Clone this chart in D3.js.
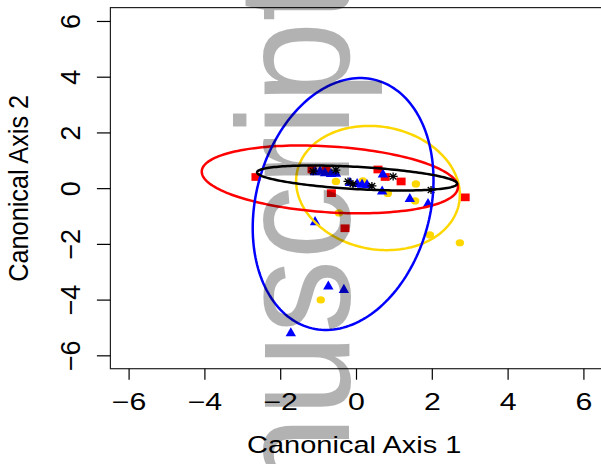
<!DOCTYPE html>
<html>
<head>
<meta charset="utf-8">
<script src="https://cdn.jsdelivr.net/npm/d3@7"></script>
<style>
  body { margin: 0; background: #fff; }
  text { font-family: "Liberation Sans", Arial, sans-serif; }
</style>
</head>
<body>
<div id="chart"></div>
<script>
// tick labels
const xTicks = [-6, -4, -2, 0, 2, 4, 6];
const yTicks = [-6, -4, -2, 0, 2, 4, 6];

// group scores (canonical axis 1, canonical axis 2)
const redX = [-2.64, -1.16, -0.79, -0.65, -0.29, 0.58, 0.77, 1.19, 2.88];
const redY = [0.40, 0.67, 0.65, -0.18, -1.44, 0.67, 0.40, 0.24, -0.33];

const yellowX = [-0.53, 0.18, -0.45, -0.93, 1.58, 0.84, 1.56, 1.95, 2.74];
const yellowY = [0.24, 0.26, -0.89, -4.01, 0.15, -0.19, -0.46, -1.68, -1.96];

const blueX = [-1.08, -0.95, -0.82, -0.66, -0.53, -0.16, 0.03, 0.16, 0.29, 0.69, 0.71, 1.42, 1.90, -1.08, -0.73, -0.32, -1.72];
const blueY = [0.59, 0.62, 0.56, 0.53, 0.54, 0.21, 0.17, 0.14, 0.13, -0.10, 0.51, -0.37, -0.55, -1.20, -3.51, -3.63, -5.19];

const blackX = [-1.13, -0.53, -0.21, -0.08, 0.42, 0.98, 1.98];
const blackY = [0.61, 0.65, 0.24, 0.15, 0.08, 0.42, -0.07];

// ellipses: centre, half ranges and correlation
const ellGroup = ["yellow", "red", "blue", "black"];
const ellCx = [0.58, -0.69, -0.34, 0.03];
const ellCy = [0.005, 0.314, -0.569, 0.364];
const ellRx = [2.16, 3.38, 2.385, 2.64];
const ellRy = [2.23, 1.217, 4.52, 0.449];
const ellR = [-0.11, -0.228, 0.19, -0.45];

const col = {red: "#ff0000", yellow: "#ffd700", blue: "#0000ff", black: "#000000"};

const svg = d3.select("#chart").append("svg")
    .attr("width", 601)
    .attr("height", 464);

const x = d3.scaleLinear().domain([-6.48, 6.48]).range([110.4, 601.6]);
const y = d3.scaleLinear().domain([-6.48, 6.48]).range([368.7, 7.6]);

// points
const zip = (a, b) => a.map((v, i) => [v, b[i]]);

svg.append("g").selectAll("rect")
    .data(zip(redX, redY)).enter().append("rect")
    .attr("x", d => x(d[0]) - 4.5)
    .attr("y", d => y(d[1]) - 3.85)
    .attr("width", 9).attr("height", 7.7)
    .attr("fill", col.red);

svg.append("g").selectAll("ellipse")
    .data(zip(yellowX, yellowY)).enter().append("ellipse")
    .attr("cx", d => x(d[0])).attr("cy", d => y(d[1]))
    .attr("rx", 4.2).attr("ry", 3.6)
    .attr("fill", col.yellow);

svg.append("g").selectAll("path")
    .data(zip(blueX, blueY)).enter().append("path")
    .attr("transform", d => "translate(" + x(d[0]) + "," + y(d[1]) + ")")
    .attr("d", "M0,-5.5L5.2,3.6L-5.2,3.6Z")
    .attr("fill", col.blue);

svg.append("g").selectAll("path")
    .data(zip(blackX, blackY)).enter().append("path")
    .attr("transform", d => "translate(" + x(d[0]) + "," + y(d[1]) + ")")
    .attr("d", "M-4.5,0H4.5M0,-4V4M-3.3,-3L3.3,3M-3.3,3L3.3,-3")
    .attr("fill", "none")
    .attr("stroke", col.black)
    .attr("stroke-width", 1.3);

// ellipses
const line = d3.line().x(d => x(d[0])).y(d => y(d[1]));
ellGroup.forEach(function(g, i) {
    const delta = Math.acos(ellR[i]);
    const pts = d3.range(0, 361, 2).map(function(a) {
        const t = a * Math.PI / 180;
        return [ellCx[i] + ellRx[i] * Math.cos(t), ellCy[i] + ellRy[i] * Math.cos(t + delta)];
    });
    svg.append("path")
        .attr("d", line(pts) + "Z")
        .attr("fill", "none")
        .attr("stroke", col[g])
        .attr("stroke-width", 2.5);
});

// box
svg.append("rect")
    .attr("x", x.range()[0]).attr("y", y.range()[1])
    .attr("width", x.range()[1] - x.range()[0])
    .attr("height", y.range()[0] - y.range()[1])
    .attr("fill", "none")
    .attr("stroke", "#222")
    .attr("stroke-width", 1.2);

// X axis
const xAxis = svg.append("g")
    .attr("transform", "translate(0," + y.range()[0] + ")")
    .call(d3.axisBottom(x).tickValues(xTicks).tickSize(11));
xAxis.select(".domain").remove();
xAxis.attr("font-family", null).attr("font-size", null);
xAxis.selectAll("line").attr("stroke", "#000").attr("stroke-width", 1.2);
xAxis.selectAll("text")
    .attr("y", 41.3).attr("dy", null)
    .attr("fill", "#000")
    .style("font-size", "23.3px")
    .attr("transform", "scale(1.3,1)");

// Y axis
const yAxis = svg.append("g")
    .attr("transform", "translate(" + x.range()[0] + ",0)")
    .call(d3.axisLeft(y).tickValues(yTicks).tickSize(13.5));
yAxis.select(".domain").remove();
yAxis.attr("font-family", null).attr("font-size", null);
yAxis.selectAll("line").attr("stroke", "#000").attr("stroke-width", 1.2);
yAxis.selectAll("text")
    .attr("x", null).attr("dy", null)
    .attr("text-anchor", "middle")
    .attr("fill", "#000")
    .style("font-size", "27px")
    .attr("transform", "translate(-30.4,0) scale(1.03,1) rotate(-90)");

// axis titles
svg.append("text")
    .attr("text-anchor", "middle")
    .attr("transform", "translate(354.2,453.3) scale(1.245,1)")
    .style("font-size", "23.3px")
    .text("Canonical Axis 1");

svg.append("text")
    .attr("text-anchor", "middle")
    .attr("transform", "translate(28.3,188.3) scale(1.1,1) rotate(-90)")
    .style("font-size", "25.3px")
    .text("Canonical Axis 2");

// watermark
svg.append("text")
    .attr("transform", "translate(349,704) scale(1.08,1) rotate(-90)")
    .style("font-size", "148px")
    .attr("fill", "#000")
    .attr("fill-opacity", 0.3)
    .text("Manuscript");
</script>
</body>
</html>
